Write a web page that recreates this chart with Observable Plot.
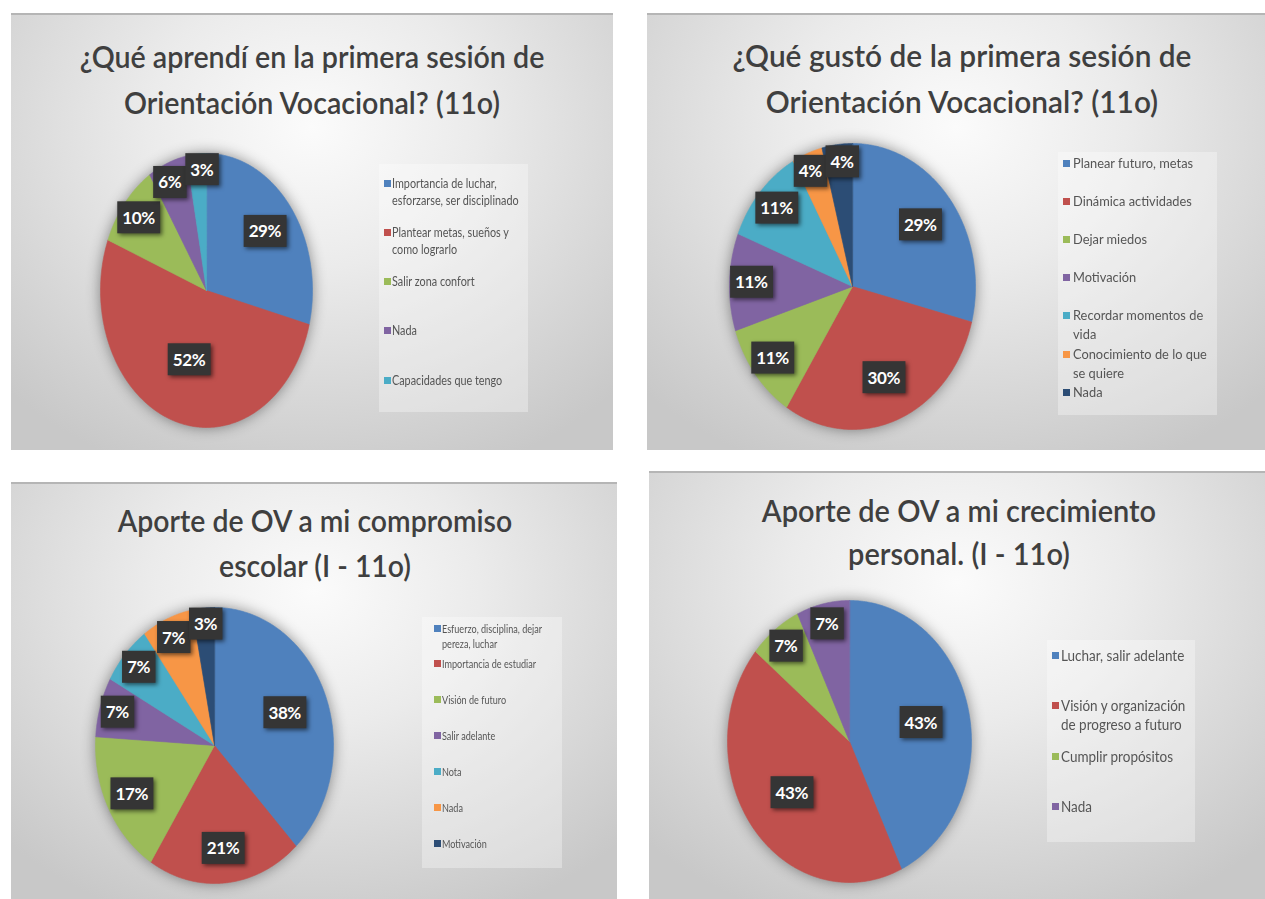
<!DOCTYPE html>
<html>
<head>
<meta charset="utf-8">
<script src="https://cdn.jsdelivr.net/npm/d3@7"></script>
<script src="https://cdn.jsdelivr.net/npm/@observablehq/plot@0.6"></script>
<style>
html,body{margin:0;padding:0;background:#fff;}
body{width:1265px;height:899px;position:relative;overflow:hidden;font-family:Lato,"Open Sans",sans-serif;}
.panel{position:absolute;overflow:hidden;
  background:radial-gradient(ellipse 72% 85% at 50% 26%, #fbfbfb 0%, #ebebeb 38%, #c8c8c8 100%);
  box-shadow:inset 0 2px 0 #b5b5b5;}
.tline{position:absolute;white-space:nowrap;color:#3f3f3f;font-weight:600;line-height:1;transform-origin:50% 50%;}
.legend{position:absolute;background:rgba(255,255,255,0.32);}
.entry{position:absolute;}
.sw{position:absolute;width:7px;height:7px;}
.lt{position:absolute;color:#555;transform-origin:0 0;white-space:normal;}
</style>
</head>
<body>
<script>
// ---------- data ----------
const title1 = ["¿Qué aprendí en la primera sesión de", "Orientación Vocacional? (11o)"];
const categories1 = ["Importancia de luchar, esforzarse, ser disciplinado", "Plantear metas, sueños y como lograrlo", "Salir zona confort", "Nada", "Capacidades que tengo"];
const values1 = [29, 52, 10, 6, 3];

const title2 = ["¿Qué gustó de la primera sesión de", "Orientación Vocacional? (11o)"];
const categories2 = ["Planear futuro, metas", "Dinámica actividades", "Dejar miedos", "Motivación", "Recordar momentos de vida", "Conocimiento de lo que se quiere", "Nada"];
const values2 = [29, 30, 11, 11, 11, 4, 4];

const title3 = ["Aporte de OV a mi compromiso", "escolar (I - 11o)"];
const categories3 = ["Esfuerzo, disciplina, dejar pereza, luchar", "Importancia de estudiar", "Visión de futuro", "Salir adelante", "Nota", "Nada", "Motivación"];
const values3 = [38, 21, 17, 7, 7, 7, 3];

const title4 = ["Aporte de OV a mi crecimiento", "personal. (I - 11o)"];
const categories4 = ["Luchar, salir adelante", "Visión y organización de progreso a futuro", "Cumplir propósitos", "Nada"];
const values4 = [43, 43, 7, 7];

const palette = ["#4f81bd", "#c0504d", "#9bbb59", "#8064a2", "#4bacc6", "#f79646", "#2c4d75"];

// ---------- layout ----------
const charts = [
  {title: title1, categories: categories1, values: values1,
   panel: {x: 11, y: 13, w: 602, h: 437}, titleCenter: 312, titleWidth: 465, titleBase: [68, 114], titleH: 125,
   pie: {cx: 206, cy: 290, rx: 106, ry: 137},
   legend: {x: 379, y: 164, w: 149, h: 248, first: 183, slot: 49.3, lineH: 17, fs: 12.5, sqX: 384, txtX: 392, cs: 0.865}},
  {title: title2, categories: categories2, values: values2,
   panel: {x: 647, y: 13, w: 618, h: 437}, titleCenter: 962, titleWidth: 459, titleBase: [67, 113], titleH: 125,
   pie: {cx: 852, cy: 286, rx: 123, ry: 143},
   legend: {x: 1058, y: 152, w: 159, h: 263, first: 163, slot: 38.2, lineH: 19, fs: 13.5, sqX: 1063, txtX: 1073, cs: 0.95}},
  {title: title3, categories: categories3, values: values3,
   panel: {x: 11, y: 482, w: 606, h: 417}, titleCenter: 315, titleWidth: 394, titleBase: [532, 577], titleH: 115,
   pie: {cx: 214, cy: 745, rx: 119, ry: 138},
   legend: {x: 422, y: 617, w: 140, h: 251, first: 628, slot: 35.9, lineH: 15, fs: 11.5, sqX: 434, txtX: 442, cs: 0.79}},
  {title: title4, categories: categories4, values: values4,
   panel: {x: 649, y: 471, w: 616, h: 428}, titleCenter: 959, titleWidth: 394, titleBase: [522, 565], titleH: 120,
   pie: {cx: 849, cy: 741, rx: 122, ry: 141},
   legend: {x: 1047, y: 640, w: 148, h: 202, first: 655, slot: 50.6, lineH: 19, fs: 14.5, sqX: 1052, txtX: 1061, cs: 0.93}}
];

const TITLE_FS = 31;
const BOX_H = 32;

function boxWidth(text) { return 10 + 9.3 * text.length; }

// spread label angles so that label boxes do not overlap (like a best-fit placement)
function resolveLabels(labels, rx, ry) {
  const pos = l => [rx * l.r * Math.sin(l.theta), -ry * l.r * Math.cos(l.theta)];
  for (let it = 0; it < 400; it++) {
    let moved = false;
    for (let i = 0; i < labels.length; i++) {
      for (let j = i + 1; j < labels.length; j++) {
        const [xi, yi] = pos(labels[i]), [xj, yj] = pos(labels[j]);
        const ox = (boxWidth(labels[i].label) + boxWidth(labels[j].label)) / 2 + 3 - Math.abs(xi - xj);
        const oy = BOX_H + 3 - Math.abs(yi - yj);
        if (ox > 0 && oy > 0) {
          labels[i].theta -= 0.004;
          labels[j].theta += 0.004;
          moved = true;
        }
      }
    }
    if (!moved) break;
  }
  for (const l of labels) {
    l.x = l.r * Math.sin(l.theta);
    l.y = l.r * Math.cos(l.theta);
  }
}

function build(ch) {
  const P = ch.panel;
  const panel = document.createElement("div");
  panel.className = "panel";
  Object.assign(panel.style, {left: P.x + "px", top: P.y + "px", width: P.w + "px", height: P.h + "px"});
  document.body.append(panel);

  // title
  const lines = ch.title.map((t, i) => {
    const d = document.createElement("div");
    d.className = "tline";
    d.textContent = t;
    d.style.fontSize = TITLE_FS + "px";
    d.style.left = (ch.titleCenter - P.x) + "px";
    d.style.top = (ch.titleBase[i] - P.y - 0.887 * TITLE_FS) + "px";
    panel.append(d);
    return d;
  });
  const s = ch.titleWidth / lines[0].offsetWidth;
  lines.forEach(d => d.style.transform = `translateX(-50%) scaleX(${s})`);

  // pie data
  const colors = palette.slice(0, ch.categories.length);
  const rows = ch.categories.map((c, i) => ({name: c, value: ch.values[i]}));
  const total = d3.sum(rows, d => d.value);
  const arcs = d3.pie().sort(null).value(d => d.value)(rows);
  const pts = [];
  const labels = [];
  for (const a of arcs) {
    const n = Math.max(2, Math.ceil((a.endAngle - a.startAngle) / (Math.PI / 360)));
    pts.push({name: a.data.name, x: 0, y: 0});
    for (let k = 0; k <= n; k++) {
      const t = a.startAngle + (a.endAngle - a.startAngle) * k / n;
      pts.push({name: a.data.name, x: Math.sin(t), y: Math.cos(t)});
    }
    const share = a.data.value / total;
    labels.push({name: a.data.name, theta: (a.startAngle + a.endAngle) / 2, r: 0.9 - 0.7 * share, label: a.data.value + "%"});
  }
  resolveLabels(labels, ch.pie.rx, ch.pie.ry);

  const svgH = P.h - ch.titleH;
  const px = ch.pie.cx - P.x, py = ch.pie.cy - P.y - ch.titleH;
  const plot = Plot.plot({
    width: P.w, height: svgH,
    marginLeft: px - ch.pie.rx, marginRight: P.w - (px + ch.pie.rx),
    marginTop: py - ch.pie.ry, marginBottom: svgH - (py + ch.pie.ry),
    x: {domain: [-1, 1], axis: null},
    y: {domain: [-1, 1], axis: null},
    color: {domain: ch.categories, range: colors},
    style: {background: "transparent", overflow: "visible"},
    marks: [
      Plot.line(pts, {x: "x", y: "y", z: "name", fill: "name", stroke: "name", strokeWidth: 0.6, curve: "linear-closed"}),
      Plot.text(labels, {x: "x", y: "y", text: "label", fill: "white", fontSize: 17, fontWeight: "bold", fontFamily: "Lato, 'Open Sans', sans-serif"})
    ]
  });
  Object.assign(plot.style, {position: "absolute", left: "0px", top: ch.titleH + "px", overflow: "visible", background: "transparent"});
  panel.append(plot);

  // pie shadow
  d3.select(plot).selectAll("g[aria-label='line']").style("filter", "drop-shadow(0px 0px 7px rgba(0,0,0,0.42))");
  // label boxes
  d3.select(plot).selectAll("g[aria-label='text'] text").each(function() {
    this.style.letterSpacing = "-0.4px";
    const bb = this.getBBox();
    const rect = document.createElementNS("http://www.w3.org/2000/svg", "rect");
    const cy = bb.y + bb.height / 2;
    rect.setAttribute("x", bb.x - 5);
    rect.setAttribute("width", bb.width + 10);
    rect.setAttribute("y", cy - BOX_H / 2);
    rect.setAttribute("height", BOX_H);
    rect.setAttribute("fill", "#353535");
    const tr = this.getAttribute("transform");
    if (tr) rect.setAttribute("transform", tr);
    rect.style.filter = "drop-shadow(2px 2px 2px rgba(0,0,0,0.55))";
    this.parentNode.insertBefore(rect, this);
  });

  // legend
  const L = ch.legend;
  const lg = document.createElement("div");
  lg.className = "legend";
  Object.assign(lg.style, {left: (L.x - P.x) + "px", top: (L.y - P.y) + "px", width: L.w + "px", height: L.h + "px"});
  panel.append(lg);
  ch.categories.forEach((c, i) => {
    const e = document.createElement("div");
    e.className = "entry";
    e.style.left = (L.sqX - L.x) + "px";
    e.style.top = (L.first - L.lineH / 2 + i * L.slot - L.y) + "px";
    const sw = document.createElement("span");
    sw.className = "sw";
    sw.style.background = colors[i];
    sw.style.top = (L.lineH / 2 - 3.5) + "px";
    sw.style.left = "0px";
    const tx = document.createElement("span");
    tx.className = "lt";
    tx.textContent = c;
    Object.assign(tx.style, {
      left: (L.txtX - L.sqX) + "px", top: "0px",
      fontSize: L.fs + "px", lineHeight: L.lineH + "px",
      width: ((L.x + L.w - L.txtX - 1) / L.cs) + "px",
      transform: `scaleX(${L.cs})`
    });
    e.append(sw, tx);
    lg.append(e);
  });
}

charts.forEach(build);
</script>
</body>
</html>
